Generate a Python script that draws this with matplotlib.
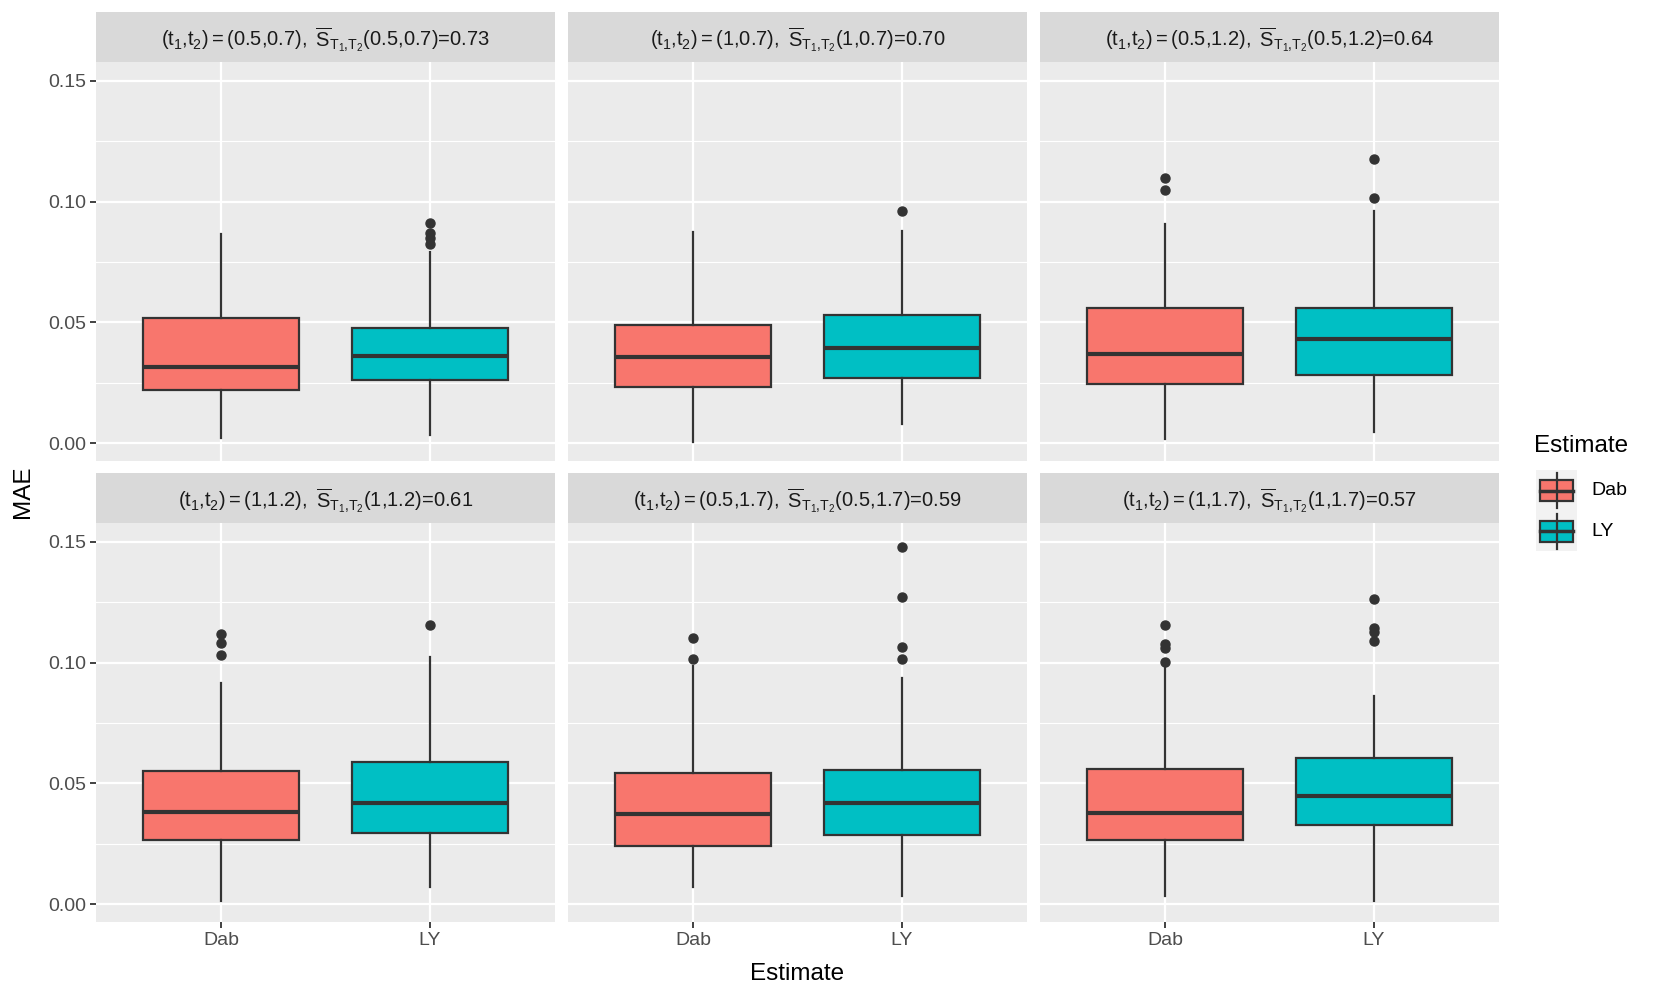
import matplotlib
matplotlib.use("Agg")
import matplotlib.pyplot as plt
from matplotlib.patches import Rectangle
from matplotlib.lines import Line2D

plt.rcParams['font.family'] = ['Liberation Sans', 'DejaVu Sans']
plt.rcParams['mathtext.fontset'] = 'custom'
plt.rcParams['mathtext.rm'] = 'Liberation Sans'
plt.rcParams['mathtext.it'] = 'Liberation Sans'
plt.rcParams['mathtext.bf'] = 'Liberation Sans:bold'

# facet parameters
t_pairs = [("0.5", "0.7"), ("1", "0.7"), ("0.5", "1.2"),
           ("1", "1.2"), ("0.5", "1.7"), ("1", "1.7")]
s_bar = ["0.73", "0.70", "0.64", "0.61", "0.59", "0.57"]

estimates = ["Dab", "LY"]
colors = {"Dab": "#F8766D", "LY": "#00BFC4"}

# box stats per facet: (whislo, q1, med, q3, whishi, outliers)
dab_stats = [
    (0.0020, 0.0219, 0.0316, 0.0518, 0.0864, []),
    (0.0003, 0.0232, 0.0356, 0.0490, 0.0873, []),
    (0.0018, 0.0246, 0.0368, 0.0561, 0.0908, [0.1096, 0.1048]),
    (0.0013, 0.0264, 0.0383, 0.0550, 0.0915, [0.1117, 0.1082, 0.1030]),
    (0.0070, 0.0242, 0.0374, 0.0541, 0.0985, [0.1100, 0.1016]),
    (0.0035, 0.0264, 0.0378, 0.0559, 0.0994, [0.1157, 0.1078, 0.1060, 0.1003]),
]
ly_stats = [
    (0.0035, 0.0263, 0.0360, 0.0478, 0.0790, [0.0825, 0.0850, 0.0870, 0.0912]),
    (0.0079, 0.0268, 0.0395, 0.0530, 0.0880, [0.0960]),
    (0.0048, 0.0280, 0.0430, 0.0561, 0.0960, [0.1175, 0.1013]),
    (0.0070, 0.0295, 0.0418, 0.0590, 0.1025, [0.1157]),
    (0.0035, 0.0286, 0.0418, 0.0554, 0.0937, [0.1478, 0.1271, 0.1065, 0.1016]),
    (0.0013, 0.0326, 0.0449, 0.0603, 0.0862, [0.1263, 0.1144, 0.1126, 0.1091]),
]

W, H = 1661, 997
fig = plt.figure(figsize=(W / 100, H / 100), dpi=100)

col_x = [(96, 555), (568, 1027), (1040, 1499)]
row_y = [(12, 62, 461), (473, 523, 922)]  # strip top, panel top, panel bottom

def fx(p):
    return p / W

def fy(p):
    return 1 - p / H

edge = "#333333"
for i in range(6):
    r, c = divmod(i, 3)
    x0, x1 = col_x[c]
    st, pt, pb = row_y[r]
    ax = fig.add_axes([fx(x0), fy(pb), fx(x1 - x0), (pb - pt) / H])
    ax.set_facecolor("#EBEBEB")
    for s in ax.spines.values():
        s.set_visible(False)

    stats = []
    for d in (dab_stats[i], ly_stats[i]):
        lo, q1, med, q3, hi, fl = d
        stats.append(dict(whislo=lo, q1=q1, med=med, q3=q3, whishi=hi, fliers=fl))
    bp = ax.bxp(stats, positions=[1, 2], widths=0.75, patch_artist=True,
                showcaps=False, manage_ticks=False,
                boxprops=dict(edgecolor=edge, linewidth=1.6),
                medianprops=dict(color=edge, linewidth=3),
                whiskerprops=dict(color=edge, linewidth=1.6),
                flierprops=dict(marker="o", markerfacecolor=edge, markeredgecolor=edge,
                                markersize=6.5, linestyle="none"))
    for patch, est in zip(bp["boxes"], estimates):
        patch.set_facecolor(colors[est])

    ax.set_xlim(0.4, 2.6)
    ax.set_ylim(-0.0074, 0.1578)
    ax.set_yticks([0, 0.05, 0.10, 0.15])
    ax.set_yticks([0.025, 0.075, 0.125], minor=True)
    ax.set_xticks([1, 2])
    ax.grid(True, which="major", color="white", lw=1.6)
    ax.grid(True, which="minor", axis="y", color="white", lw=0.8)
    ax.set_axisbelow(True)
    ax.tick_params(which="minor", length=0)
    ax.tick_params(which="major", color=edge, length=4, width=1.3,
                   labelcolor="#4D4D4D", labelsize=14, pad=3)
    if c == 0:
        ax.set_yticklabels(["0.00", "0.05", "0.10", "0.15"])
    else:
        ax.tick_params(axis="y", length=0, labelleft=False)
    if r == 1:
        ax.set_xticklabels(estimates)
    else:
        ax.tick_params(axis="x", length=0, labelbottom=False)

    # strip
    sax = fig.add_axes([fx(x0), fy(pt), fx(x1 - x0), (pt - st) / H])
    sax.set_facecolor("#D9D9D9")
    sax.set_xticks([])
    sax.set_yticks([])
    for s in sax.spines.values():
        s.set_visible(False)
    t1, t2 = t_pairs[i]
    label = (r"$(t_1{,}t_2) = (%s{,}%s),\ \overline{S}_{T_1{,}T_2}(%s{,}%s)$=%s"
             % (t1, t2, t1, t2, s_bar[i]))
    sax.text(0.5, 0.45, label, ha="center", va="center", fontsize=14.5,
             color="#1A1A1A", transform=sax.transAxes)

fig.text(fx(23), fy(492), "MAE", rotation=90, ha="center", va="center", fontsize=17.5)
fig.text(fx(797), fy(974), "Estimate", ha="center", va="center", fontsize=17.5)

# legend
fig.text(fx(1534), fy(446), "Estimate", ha="left", va="center", fontsize=17.5)
lax = fig.add_axes([0, 0, 1, 1], facecolor="none")
lax.set_xlim(0, W)
lax.set_ylim(H, 0)
lax.axis("off")
for k, est in enumerate(estimates):
    ky = 470 + k * 40.5
    lax.add_patch(Rectangle((1536, ky), 41, 40.5, facecolor="#F2F2F2", edgecolor="none"))
    lax.add_line(Line2D([1556.5, 1556.5], [ky + 3, ky + 38], color=edge, lw=1.6))
    lax.add_patch(Rectangle((1540, ky + 10), 33, 21, facecolor=colors[est],
                            edgecolor=edge, lw=1.6))
    lax.add_line(Line2D([1540, 1573], [ky + 20.5, ky + 20.5], color=edge, lw=2.5))
    fig.text(fx(1591), fy(ky + 20.5), est, ha="left", va="center", fontsize=14)

fig.savefig("out.png", dpi=100)
